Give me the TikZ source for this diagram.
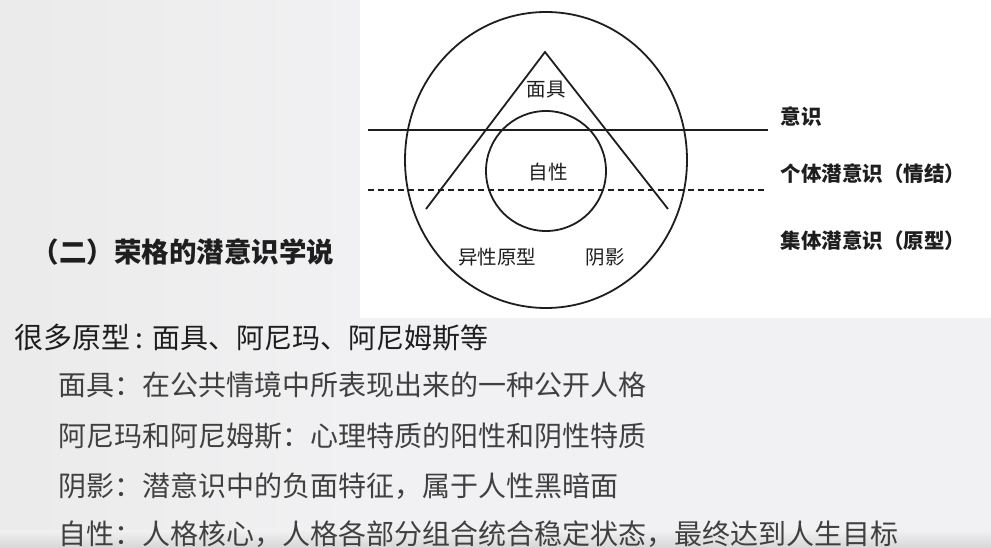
\documentclass[tikz,border=0pt]{standalone}
\usepackage{fontspec}
\usetikzlibrary{shapes.geometric}
\newfontfamily\cjk{Noto Sans CJK SC}
\definecolor{ink}{HTML}{1E1E1E}
\definecolor{paper}{HTML}{F1F1F3}
\tikzset{
  lbl/.style={font=\cjk\fontsize{19.5}{19.5}\selectfont, text=ink, inner sep=0pt},
  side/.style={lbl, anchor=west, font=\cjk\bfseries\fontsize{20.5}{20.5}\selectfont},
  row/.style={anchor=west, inner sep=0pt, text=ink!85, font=\cjk\fontsize{28}{28}\selectfont}
}
\begin{document}
\begin{tikzpicture}[x=1pt, y=-1pt, line width=1.8pt, draw=ink]
  \useasboundingbox (0,0) rectangle (991,548);
  % background
  \shade[left color=black!8, right color=paper] (0,0) rectangle (360,548);
  \fill[paper] (360,318) rectangle (991,548);
  \fill[white] (360,0) rectangle (991,318);
  \shade[top color=paper, bottom color=black!16] (0,530) rectangle (991,548);

  % diagram
  \node[draw, ellipse, minimum width=282pt, minimum height=296pt, inner sep=0pt] (psyche) at (546,160) {};
  \node[draw, circle, minimum size=120pt, inner sep=0pt] (self) at (546,171) {};
  \coordinate (apex) at (545,52);
  \coordinate (footl) at (426,209);
  \coordinate (footr) at (668,209);
  \draw[line join=miter] (footl) -- (apex) -- (footr);
  \coordinate (cl) at (368,130);
  \coordinate (cr) at (768,130);
  \draw (cl) -- (cr);
  \coordinate (ul) at (368,190);
  \coordinate (ur) at (764,190);
  \draw[line width=1.4pt, dash pattern=on 6pt off 4pt] (ul) -- (ur);

  \node[lbl] (persona) at (546,90) {面具};
  \node[lbl] (selfname) at (548,172) {自性};
  \node[lbl] (anima) at (497,257) {异性原型};
  \node[lbl] (shadow) at (605,257) {阴影};

  \node[side] (conscious) at (780,117) {意识};
  \node[side] (personal) at (780,174) {个体潜意识（情结）};
  \node[side] (collective) at (780,241) {集体潜意识（原型）};

  \node[anchor=west, inner sep=0pt, text=ink, font=\cjk\bfseries\fontsize{27.5}{27.5}\selectfont] (title) at (31,252) {（二）荣格的潜意识学说};

  % text rows
  \node[row, text=ink] (many) at (14,338) {{\fontsize{29}{29}\selectfont 很多原型}\hspace{5pt}:\hspace{9pt}面具、阿尼玛、阿尼姆斯等};
  \node[row] (r1) at (58,385) {面具：在公共情境中所表现出来的一种公开人格};
  \node[row] (r2) at (58,436) {阿尼玛和阿尼姆斯：心理特质的阳性和阴性特质};
  \node[row] (r3) at (58,486) {阴影：潜意识中的负面特征，属于人性黑暗面};
  \node[row] (r4) at (58,534) {自性：人格核心，人格各部分组合统合稳定状态，最终达到人生目标};
\end{tikzpicture}
\end{document}
